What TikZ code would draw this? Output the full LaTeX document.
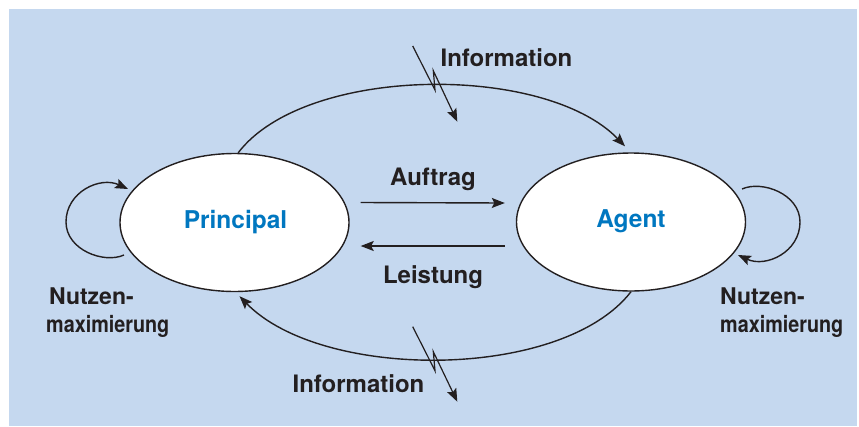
\documentclass[tikz,border=0pt]{standalone}
\usepackage{fontspec}
\setmainfont{TeX Gyre Heros}
\usetikzlibrary{shapes.geometric,arrows.meta}
\definecolor{bgblue}{RGB}{197,216,239}
\definecolor{txtblue}{RGB}{0,119,192}
\definecolor{ink}{RGB}{35,31,32}
\tikzset{
  party/.style={ellipse,draw=ink,line width=1.4pt,fill=white,minimum width=229pt,minimum height=138pt,inner sep=0pt},
  lbl/.style={font=\fontsize{24}{28}\selectfont\bfseries,text=ink,inner sep=0pt},
  partylabel/.style={font=\fontsize{24.5}{28}\selectfont\bfseries,text=txtblue,inner sep=0pt,anchor=base},
  sidelabel/.style={font=\fontsize{23}{27}\selectfont\bfseries,text=ink,inner sep=0pt,anchor=base west},
  conn/.style={draw=ink,line width=1.4pt,-{Stealth[length=13pt,width=10pt,inset=2.5pt]}},
}
\begin{document}
\begin{tikzpicture}[x=1pt,y=-1pt]
\useasboundingbox (0,0) rectangle (859,426);
\fill[white] (0,0) rectangle (859,426);
\fill[bgblue] (9,9) rectangle (857,426);

\node[party] (P) at (234.5,222.5) {};
\node[party] (A) at (631,222) {};
\node[partylabel] (pt) at (235.5,228) {Principal};
\node[partylabel] (at) at (631,227) {Agent};

% top and bottom arcs
\draw[conn] (P.87) .. controls (305,65) and (545,63) .. ([shift={(-6pt,6pt)}]A.north);
\draw[conn] (A.south) .. controls (562,381) and (322,381) .. ([shift={(5pt,-4pt)}]P.south);

% Auftrag / Leistung
\draw[conn] ([shift={(11pt,20pt)}]P.east) -- ([shift={(-11pt,19pt)}]A.west);
\draw[conn] ([shift={(-11pt,-24pt)}]A.west) -- ([shift={(11pt,-23.5pt)}]P.east);

% self loops
\coordinate (l1) at (124,255);
\coordinate (l2) at (66,222);
\coordinate (l3) at (128,189);
\draw[conn] (l1) .. controls (104,264) and (66,250) .. (l2) .. controls (66,192) and (100,176) .. (l3);
\coordinate (r1) at (742,189);
\coordinate (r2) at (800,222);
\coordinate (r3) at (738,255);
\draw[conn] (r1) .. controls (762,180) and (800,194) .. (r2) .. controls (800,252) and (766,268) .. (r3);

% lightning arrows
\coordinate (ta) at (412.7,46);
\coordinate (tb) at (435,90);
\coordinate (tc) at (433.3,70.7);
\coordinate (td) at (457.3,121.7);
\draw[conn,line width=1.2pt,line join=miter] (ta) -- (tb) -- (tc) -- (td);
\coordinate (ba) at (412.7,326.7);
\coordinate (bb) at (435,370.7);
\coordinate (bc) at (433.3,351.7);
\coordinate (bd) at (457.3,401.7);
\draw[conn,line width=1.2pt,line join=miter] (ba) -- (bb) -- (bc) -- (bd);

% labels
\node[lbl,anchor=base] (i1) at (506.5,66) {Information};
\node[lbl,anchor=base] (i2) at (358.5,392.5) {Information};
\node[lbl,anchor=base] (au) at (433,185) {Auftrag};
\node[lbl,anchor=base] (le) at (433,283) {Leistung};
\node[sidelabel] (n1) at (49,304) {Nutzen-};
\node[sidelabel] (m1) at (46,332) {\scalebox{0.86}[1]{maximierung}};
\node[sidelabel] (n2) at (720,304) {Nutzen-};
\node[sidelabel] (m2) at (720,332) {\scalebox{0.86}[1]{maximierung}};
\end{tikzpicture}
\end{document}
